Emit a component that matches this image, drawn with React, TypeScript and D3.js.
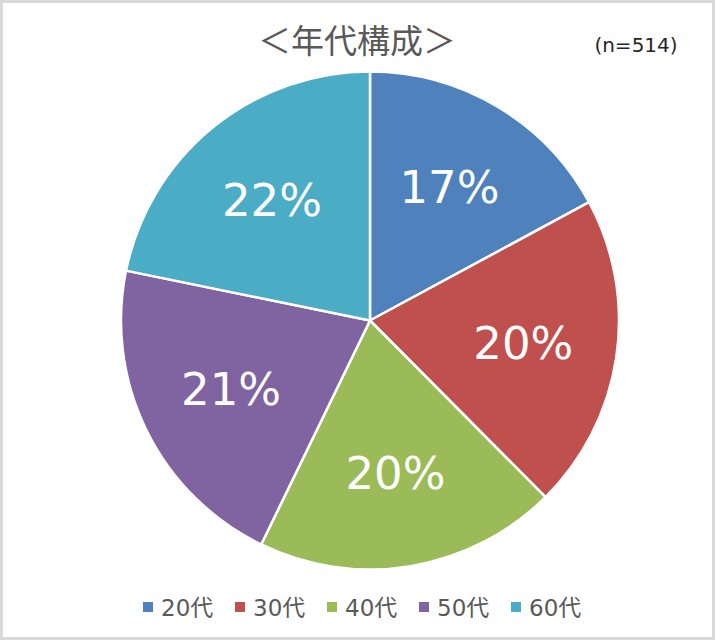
import React from "react";
import * as d3 from "d3";

const categories = ["20代", "30代", "40代", "50代", "60代"];
const counts = [88, 105, 101, 108, 112];
const colors = ["#4F81BD", "#C0504D", "#9BBB59", "#8064A2", "#4BACC6"];
const title = "＜年代構成＞";
const sampleNote = "(n=514)";

const W = 715;
const H = 640;
const CX = 370;
const CY = 320.5;
const R = 249;
const LABEL_R = 155;

const LATIN = "'DejaVu Sans', 'Noto Sans CJK JP', sans-serif";

export default function App() {
  const total = d3.sum(counts);
  const pie = d3.pie<number>().sort(null).value((d) => d);
  const arcs = pie(counts);
  const arcGen = d3.arc<d3.PieArcDatum<number>>().innerRadius(0).outerRadius(R);
  const labelArc = d3
    .arc<d3.PieArcDatum<number>>()
    .innerRadius(LABEL_R)
    .outerRadius(LABEL_R);

  const legendX = d3.scaleLinear().domain([0, 1]).range([143, 235]);

  return (
    <svg
      width={W}
      height={H}
      style={{ position: "absolute", left: 0, top: 0 }}
      xmlns="http://www.w3.org/2000/svg"
    >
      <rect x={0} y={0} width={W} height={H} fill="#ffffff" />
      <rect
        x={1.5}
        y={1.5}
        width={W - 3}
        height={H - 3}
        fill="none"
        stroke="#d9d9d9"
        strokeWidth={3}
      />
      <text
        x={357}
        y={53}
        textAnchor="middle"
        fontFamily="'Noto Sans CJK JP', sans-serif"
        fontSize={33}
        fill="#595959"
      >
        {title}
      </text>
      <text
        x={636}
        y={52}
        textAnchor="middle"
        fontFamily={LATIN}
        fontSize={20}
        fill="#262626"
      >
        {sampleNote}
      </text>
      <g transform={`translate(${CX},${CY})`}>
        {arcs.map((a, i) => (
          <path
            key={i}
            d={arcGen(a) || ""}
            fill={colors[i]}
            stroke="#ffffff"
            strokeWidth={2.5}
            strokeLinejoin="round"
          />
        ))}
        {arcs.map((a, i) => {
          const [x, y] = labelArc.centroid(a);
          return (
            <text
              key={"l" + i}
              x={x}
              y={y + 16}
              textAnchor="middle"
              fontFamily={LATIN}
              fontSize={45}
              fill="#ffffff"
            >
              {`${Math.round((a.data / total) * 100)}%`}
            </text>
          );
        })}
      </g>
      <g>
        {categories.map((c, i) => (
          <g key={c} transform={`translate(${legendX(i)},0)`}>
            <rect x={0} y={602} width={10} height={10} fill={colors[i]} />
            <text
              x={18}
              y={616}
              fontFamily={LATIN}
              fontSize={23}
              fill="#595959"
            >
              {c}
            </text>
          </g>
        ))}
      </g>
    </svg>
  );
}
